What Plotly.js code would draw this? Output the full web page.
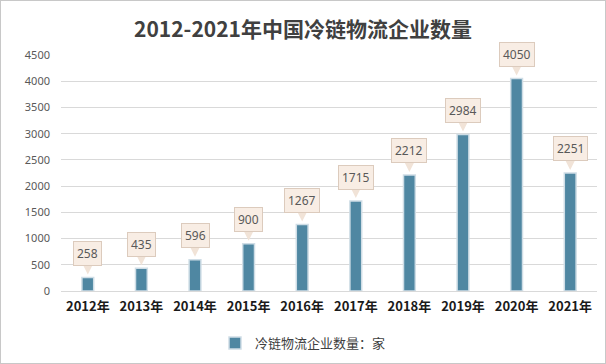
<!DOCTYPE html>
<html><head><meta charset="utf-8">
<script src="https://cdn.plot.ly/plotly-3.0.1.min.js"></script>
<style>html,body{margin:0;padding:0;background:#fff}#c{width:606px;height:364px;box-sizing:border-box;border:1px solid #c8c8c8}</style>
</head><body><div id="c"></div>
<script>
var years = ['2012年','2013年','2014年','2015年','2016年','2017年','2018年','2019年','2020年','2021年'];
var counts = [258, 435, 596, 900, 1267, 1715, 2212, 2984, 4050, 2251];
var seriesName = '冷链物流企业数量：家';
var titleText = '2012-2021年中国冷链物流企业数量';

var arrows = years.map(function(y, i){
  return {x: y, y: counts[i], xref:'x', yref:'y', text:'',
    showarrow:true, ax:0, ay:-16, yshift:3, arrowhead:2, arrowsize:0.9, arrowwidth:6,
    arrowcolor:'#f1e3d7', standoff:0, startstandoff:0};
});
var boxes = years.map(function(y, i){
  return {x: y, y: counts[i], xref:'x', yref:'y', text: String(counts[i]),
    showarrow:false, yshift:24, yanchor:'middle', xanchor:'center',
    bgcolor:'#f8ede4', bordercolor:'#dccbbd', borderwidth:1, borderpad:3,
    font:{family:'"Noto Sans", "Open Sans", sans-serif', size:12, color:'#595959'}};
});

var trace = {type:'bar', x: years, y: counts, name: seriesName, width:0.22,
  marker:{color:'#4f87a2', line:{color:'#cfdde6', width:1.5}}, showlegend:true};

var layout = {
  width:604, height:362, margin:{l:60, r:8, t:54, b:72},
  paper_bgcolor:'#fff', plot_bgcolor:'#fff',
  title:{text: titleText, x:0.5, xref:'container', xanchor:'center', y:0.92, yref:'container', yanchor:'middle',
    font:{family:'"Noto Sans CJK SC", sans-serif', size:21, color:'#404040', weight:'bold'}},
  xaxis:{type:'category', showgrid:false, zeroline:false, showline:false, ticks:'', ticklabelstandoff:6,
    tickfont:{family:'"Noto Sans CJK SC", sans-serif', size:13, color:'#1a1a1a', weight:'bold'}},
  yaxis:{range:[0,4500], dtick:500, showgrid:true, gridcolor:'#d9d9d9', gridwidth:1, zeroline:true, zerolinecolor:'#d9d9d9',
    showline:false, ticks:'', ticklabelstandoff:10,
    tickfont:{family:'"Noto Sans", "Open Sans", sans-serif', size:11, color:'#595959'}},
  legend:{orientation:'h', x:0.5, xref:'container', xanchor:'center', y:0.055, yref:'container', yanchor:'middle',
    font:{family:'"Noto Sans CJK SC", sans-serif', size:13, color:'#404040'}},
  annotations: arrows.concat(boxes),
  bargap:0.78
};
Plotly.newPlot('c', [trace], layout, {displayModeBar:false, staticPlot:true});
</script></body></html>
